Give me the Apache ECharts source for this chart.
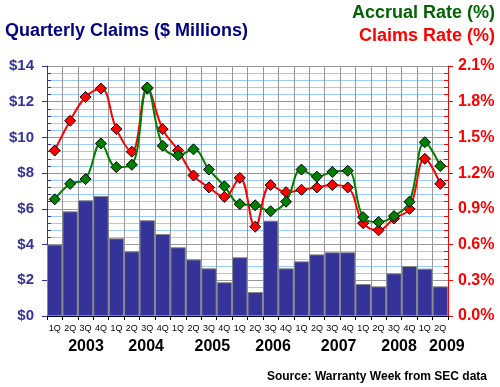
<!DOCTYPE html>
<html>
<head>
<meta charset="utf-8">
<script src="https://cdn.jsdelivr.net/npm/echarts@6/dist/echarts.min.js"></script>
<style>html,body{margin:0;padding:0;background:#fff}#c{width:500px;height:387px}</style>
</head>
<body>
<div id="c"></div>
<script>
// ---- data ----
var quarters = ['1Q','2Q','3Q','4Q','1Q','2Q','3Q','4Q','1Q','2Q','3Q','4Q','1Q','2Q','3Q','4Q','1Q','2Q','3Q','4Q','1Q','2Q','3Q','4Q','1Q','2Q'];
var years = ['2003','2004','2005','2006','2007','2008','2009'];
var claimsMillions = [4.0,5.86,6.48,6.72,4.35,3.62,5.36,4.59,3.85,3.17,2.67,1.89,3.29,1.34,5.34,2.67,3.06,3.45,3.57,3.57,1.79,1.66,2.39,2.8,2.65,1.66];
var accrualRate = [0.98,1.11,1.15,1.45,1.25,1.27,1.92,1.43,1.35,1.40,1.23,1.09,0.94,0.93,0.88,0.96,1.23,1.17,1.21,1.22,0.83,0.79,0.84,0.96,1.46,1.26];
var claimsRate = [1.39,1.64,1.84,1.91,1.57,1.38,1.91,1.57,1.39,1.18,1.08,1.00,1.16,0.75,1.10,1.04,1.06,1.08,1.10,1.08,0.78,0.72,0.82,0.90,1.32,1.11];
var leftTicks = {min:0, max:14, step:2};
var rightTicks = {min:0, max:2.1, step:0.3};
// year label anchor (in quarter units along the axis)
var yearLabelAt = [2.53,6.43,10.72,14.66,18.91,22.83,25.93];

var chart = echarts.init(document.getElementById('c'), null, {renderer:'canvas'});
var FONT = 'Liberation Sans, Arial, sans-serif';
var option = {
  animation:false,
  backgroundColor:'#fff',
  title:[
    {text:'Quarterly Claims ($ Millions)', left:5, top:22, padding:0, textStyle:{fontFamily:FONT, fontSize:18, fontWeight:'bold', color:'#000080'}},
    {text:'Accrual Rate (%)', right:5, top:4, padding:0, textStyle:{fontFamily:FONT, fontSize:18, fontWeight:'bold', color:'#006400'}},
    {text:'Claims Rate (%)', right:5, top:27, padding:0, textStyle:{fontFamily:FONT, fontSize:18, fontWeight:'bold', color:'#ff0000'}},
    {text:'Source: Warranty Week from SEC data', right:13, top:371, padding:0, textStyle:{fontFamily:FONT, fontSize:12, fontWeight:'bold', color:'#000'}}
  ],
  grid:{left:47, right:52, top:66, bottom:71, containLabel:false},
  xAxis:[
    {type:'category', data:quarters, boundaryGap:true,
     axisLine:{lineStyle:{color:'#000033', width:1}},
     axisTick:{show:true, interval:0, length:4, lineStyle:{color:'#000'}},
     axisLabel:{interval:0, fontFamily:FONT, fontSize:9, color:'#000', margin:8},
     splitLine:{show:true, interval:0, lineStyle:{color:'#999', width:1}}},
    {type:'value', min:0, max:quarters.length, position:'bottom',
     axisLine:{show:false}, axisTick:{show:false}, splitLine:{show:false},
     axisLabel:{customValues:yearLabelAt, fontFamily:FONT, fontSize:16, fontWeight:'bold', color:'#000', margin:23,
       formatter:function(v){var i=yearLabelAt.indexOf(v);return i>=0?years[i]:'';}}}
  ],
  yAxis:[
    {type:'value', min:leftTicks.min, max:leftTicks.max, interval:leftTicks.step, position:'left',
     axisLine:{show:true, lineStyle:{color:'#333399', width:1}},
     axisTick:{show:true, length:5, lineStyle:{color:'#333399'}},
     minorTick:{show:true, splitNumber:5, length:-4, lineStyle:{color:'#333399'}},
     axisLabel:{fontFamily:FONT, fontSize:15, fontWeight:'bold', color:'#333399', margin:13, formatter:function(v){return '$'+v;}},
     splitLine:{show:true, lineStyle:{color:'#999', width:1}},
     minorSplitLine:{show:true, lineStyle:{color:'#99ccff', width:1}}},
    {type:'value', min:rightTicks.min, max:rightTicks.max, interval:rightTicks.step, position:'right',
     axisLine:{show:true, lineStyle:{color:'#ff0000', width:1}},
     axisTick:{show:true, length:5, lineStyle:{color:'#ff0000'}},
     minorTick:{show:true, splitNumber:5, length:-4, lineStyle:{color:'#ff0000'}},
     axisLabel:{fontFamily:FONT, fontSize:16, fontWeight:'bold', color:'#ff0000', margin:10, formatter:function(v){return v.toFixed(1)+'%';}},
     splitLine:{show:false}}
  ],
  series:[
    {name:'Claims', type:'bar', data:claimsMillions, xAxisIndex:0, yAxisIndex:0, barCategoryGap:'0%',
     itemStyle:{color:'#333399', borderColor:'#888', borderWidth:1}, z:2},
    {name:'Claims Rate', type:'line', data:claimsRate, xAxisIndex:0, yAxisIndex:1, smooth:0.4,
     symbol:'diamond', symbolSize:11, lineStyle:{color:'#ff0000', width:2},
     itemStyle:{color:'#ff0000', borderColor:'#000', borderWidth:1}, z:3},
    {name:'Accrual Rate', type:'line', data:accrualRate, xAxisIndex:0, yAxisIndex:1, smooth:0.4,
     symbol:'diamond', symbolSize:11, lineStyle:{color:'#008000', width:2},
     itemStyle:{color:'#008000', borderColor:'#000', borderWidth:1}, z:4}
  ]
};
chart.setOption(option);
</script>
</body>
</html>
